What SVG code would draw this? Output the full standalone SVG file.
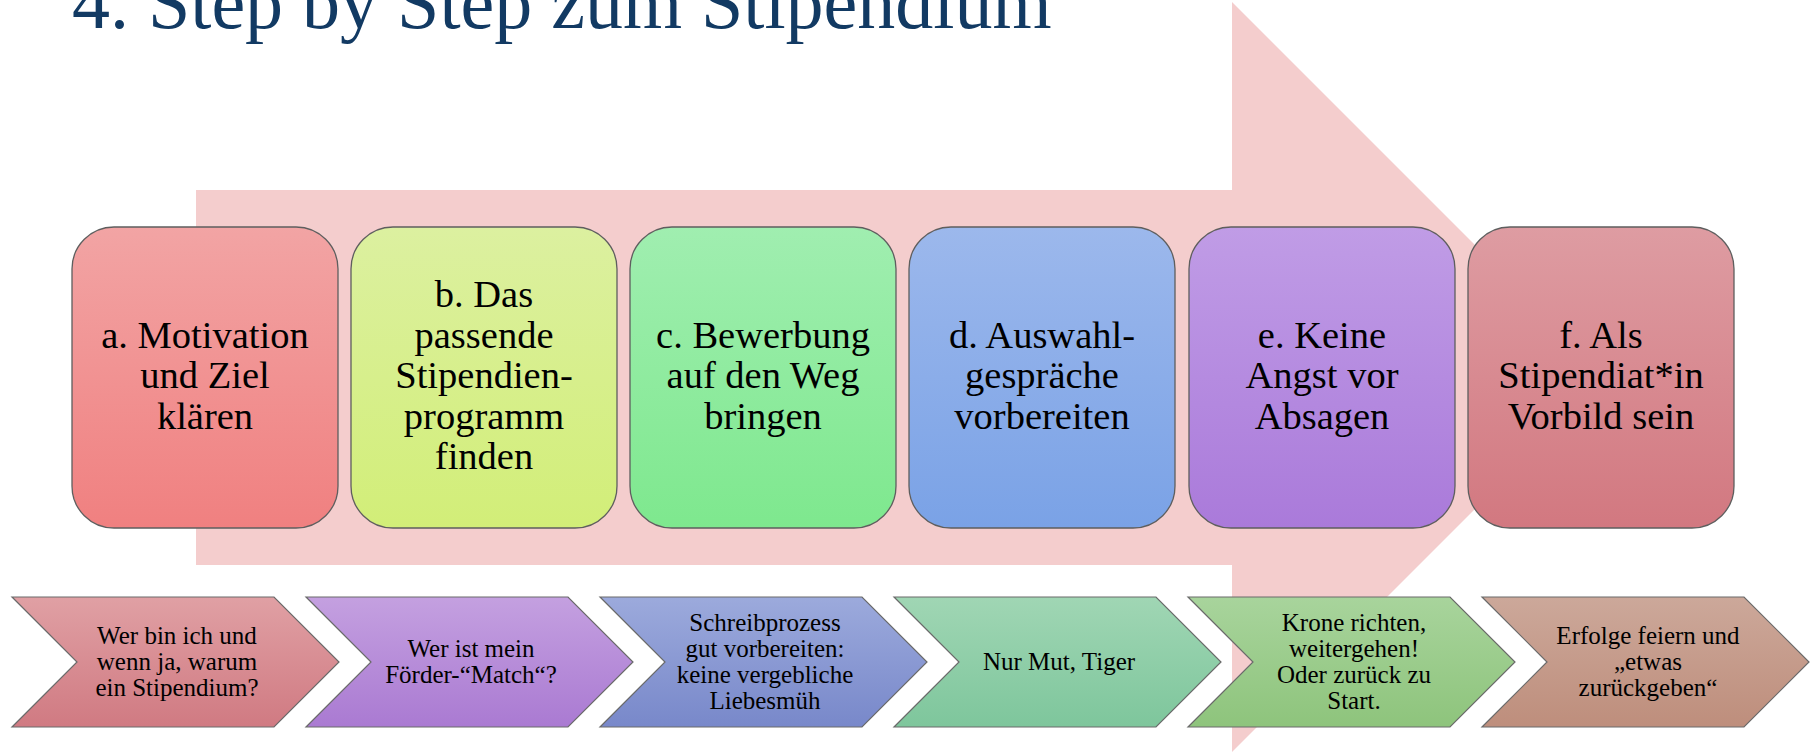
<svg xmlns="http://www.w3.org/2000/svg" width="1816" height="752" viewBox="0 0 1816 752">
<defs>
<linearGradient id="ga" x1="0" y1="0" x2="0" y2="1"><stop offset="0" stop-color="#F2A4A4"/><stop offset="1" stop-color="#F08080"/></linearGradient>
<linearGradient id="gb" x1="0" y1="0" x2="0" y2="1"><stop offset="0" stop-color="#DCF0A0"/><stop offset="1" stop-color="#D2EE78"/></linearGradient>
<linearGradient id="gc" x1="0" y1="0" x2="0" y2="1"><stop offset="0" stop-color="#A0EEB0"/><stop offset="1" stop-color="#7EE88E"/></linearGradient>
<linearGradient id="gd" x1="0" y1="0" x2="0" y2="1"><stop offset="0" stop-color="#9CB8EC"/><stop offset="1" stop-color="#7AA2E6"/></linearGradient>
<linearGradient id="ge" x1="0" y1="0" x2="0" y2="1"><stop offset="0" stop-color="#C09CE6"/><stop offset="1" stop-color="#AA7ADA"/></linearGradient>
<linearGradient id="gf" x1="0" y1="0" x2="0" y2="1"><stop offset="0" stop-color="#DE9CA2"/><stop offset="1" stop-color="#D27880"/></linearGradient>
<linearGradient id="c1" x1="0" y1="0" x2="0" y2="1"><stop offset="0" stop-color="#E0A0A4"/><stop offset="1" stop-color="#D07A82"/></linearGradient>
<linearGradient id="c2" x1="0" y1="0" x2="0" y2="1"><stop offset="0" stop-color="#C4A0E0"/><stop offset="1" stop-color="#AA7AD2"/></linearGradient>
<linearGradient id="c3" x1="0" y1="0" x2="0" y2="1"><stop offset="0" stop-color="#9CAADC"/><stop offset="1" stop-color="#7888CA"/></linearGradient>
<linearGradient id="c4" x1="0" y1="0" x2="0" y2="1"><stop offset="0" stop-color="#A0D6B4"/><stop offset="1" stop-color="#7EC69C"/></linearGradient>
<linearGradient id="c5" x1="0" y1="0" x2="0" y2="1"><stop offset="0" stop-color="#A8D49C"/><stop offset="1" stop-color="#8EC47C"/></linearGradient>
<linearGradient id="c6" x1="0" y1="0" x2="0" y2="1"><stop offset="0" stop-color="#CCA89A"/><stop offset="1" stop-color="#BE8E7C"/></linearGradient>
</defs>
<style>
.title{font-family:"Liberation Serif","Times New Roman",serif;font-size:76px;fill:#123A63}
.box{stroke:#5E5E5E;stroke-width:1.3}
.bt{font-family:"Liberation Serif","Times New Roman",serif;font-size:38.5px;fill:#000;text-anchor:middle}
.chev{stroke:#6A6A6A;stroke-width:1.2}
.ct{font-family:"Liberation Serif","Times New Roman",serif;font-size:25px;fill:#000;text-anchor:middle}
</style>
<rect width="1816" height="752" fill="#FFFFFF"/>
<text class="title" x="72" y="28">4. Step by Step zum Stipendium</text>
<g id="bg-arrow"><polygon points="196,190 1232,190 1232,2 1607,377 1232,752 1232,565 196,565" fill="#F4CDCD"/></g>
<g id="box-a"><rect class="box" x="72" y="227" width="266" height="301" rx="42" fill="url(#ga)"/>
<text class="bt" x="205"><tspan x="205" y="347.5">a. Motivation</tspan><tspan x="205" y="388">und Ziel</tspan><tspan x="205" y="428.5">klären</tspan></text></g>
<g id="box-b"><rect class="box" x="351" y="227" width="266" height="301" rx="42" fill="url(#gb)"/>
<text class="bt"><tspan x="484" y="307">b. Das</tspan><tspan x="484" y="347.5">passende</tspan><tspan x="484" y="388">Stipendien-</tspan><tspan x="484" y="428.5">programm</tspan><tspan x="484" y="469">finden</tspan></text></g>
<g id="box-c"><rect class="box" x="630" y="227" width="266" height="301" rx="42" fill="url(#gc)"/>
<text class="bt"><tspan x="763" y="347.5">c. Bewerbung</tspan><tspan x="763" y="388">auf den Weg</tspan><tspan x="763" y="428.5">bringen</tspan></text></g>
<g id="box-d"><rect class="box" x="909" y="227" width="266" height="301" rx="42" fill="url(#gd)"/>
<text class="bt"><tspan x="1042" y="347.5">d. Auswahl-</tspan><tspan x="1042" y="388">gespräche</tspan><tspan x="1042" y="428.5">vorbereiten</tspan></text></g>
<g id="box-e"><rect class="box" x="1189" y="227" width="266" height="301" rx="42" fill="url(#ge)"/>
<text class="bt"><tspan x="1322" y="347.5">e. Keine</tspan><tspan x="1322" y="388">Angst vor</tspan><tspan x="1322" y="428.5">Absagen</tspan></text></g>
<g id="box-f"><rect class="box" x="1468" y="227" width="266" height="301" rx="42" fill="url(#gf)"/>
<text class="bt"><tspan x="1601" y="347.5">f. Als</tspan><tspan x="1601" y="388">Stipendiat*in</tspan><tspan x="1601" y="428.5">Vorbild sein</tspan></text></g>
<g id="chevron-1"><polygon class="chev" points="12,597 274,597 339,662 274,727 12,727 77,662" fill="url(#c1)"/>
<text class="ct"><tspan x="177" y="644">Wer bin ich und</tspan><tspan x="177" y="670">wenn ja, warum</tspan><tspan x="177" y="696">ein Stipendium?</tspan></text></g>
<g id="chevron-2"><polygon class="chev" points="306,597 568,597 633,662 568,727 306,727 371,662" fill="url(#c2)"/>
<text class="ct"><tspan x="471" y="657">Wer ist mein</tspan><tspan x="471" y="683">Förder-“Match“?</tspan></text></g>
<g id="chevron-3"><polygon class="chev" points="600,597 862,597 927,662 862,727 600,727 665,662" fill="url(#c3)"/>
<text class="ct"><tspan x="765" y="631">Schreibprozess</tspan><tspan x="765" y="657">gut vorbereiten:</tspan><tspan x="765" y="683">keine vergebliche</tspan><tspan x="765" y="709">Liebesmüh</tspan></text></g>
<g id="chevron-4"><polygon class="chev" points="894,597 1156,597 1221,662 1156,727 894,727 959,662" fill="url(#c4)"/>
<text class="ct"><tspan x="1059" y="670">Nur Mut, Tiger</tspan></text></g>
<g id="chevron-5"><polygon class="chev" points="1188,597 1450,597 1515,662 1450,727 1188,727 1253,662" fill="url(#c5)"/>
<text class="ct"><tspan x="1354" y="631">Krone richten,</tspan><tspan x="1354" y="657">weitergehen!</tspan><tspan x="1354" y="683">Oder zurück zu</tspan><tspan x="1354" y="709">Start.</tspan></text></g>
<g id="chevron-6"><polygon class="chev" points="1482,597 1744,597 1809,662 1744,727 1482,727 1547,662" fill="url(#c6)"/>
<text class="ct"><tspan x="1648" y="644">Erfolge feiern und</tspan><tspan x="1648" y="670">„etwas</tspan><tspan x="1648" y="696">zurückgeben“</tspan></text></g>
</svg>
